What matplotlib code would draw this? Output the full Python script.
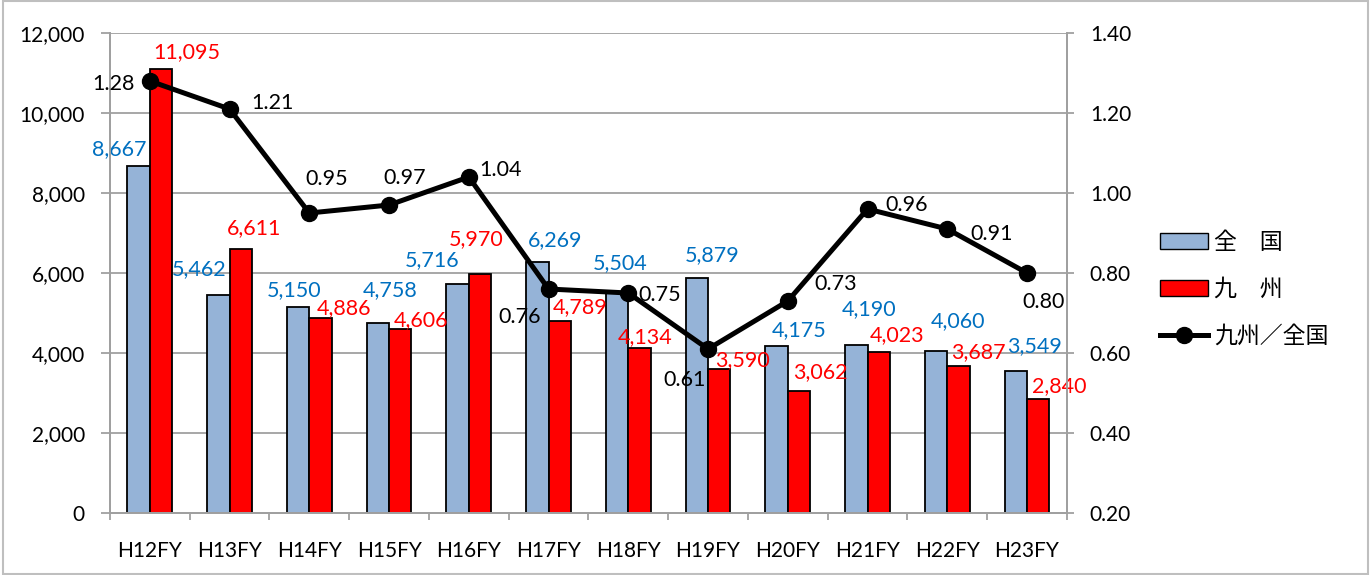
import matplotlib.pyplot as plt
import matplotlib.patches as mpatches
from matplotlib.lines import Line2D
import numpy as np

plt.rcParams['font.family'] = ['Lato', 'Noto Sans CJK JP', 'DejaVu Sans']

years = ["H12FY", "H13FY", "H14FY", "H15FY", "H16FY", "H17FY",
         "H18FY", "H19FY", "H20FY", "H21FY", "H22FY", "H23FY"]
zenkoku = [8667, 5462, 5150, 4758, 5716, 6269, 5504, 5879, 4175, 4190, 4060, 3549]
kyushu = [11095, 6611, 4886, 4606, 5970, 4789, 4134, 3590, 3062, 4023, 3687, 2840]
ratio = [1.28, 1.21, 0.95, 0.97, 1.04, 0.76, 0.75, 0.61, 0.73, 0.96, 0.91, 0.80]

# label offsets in pixels (as placed in the original chart)
zen_off = [(-19, 17), (-19, 25), (-4, 17), (12, 33), (-26, 24), (18, 22),
           (3, 30), (15, 23), (22, 16), (13, 36), (22, 30), (19, 25)]
kyu_off = [(26, 17), (13, 20), (24, 9), (21, 9), (-4, 35), (20, 14),
           (6, 11), (23, 9), (21, 18), (18, 17), (20, 13), (21, 13)]
ratio_off = [(-36, -3), (43, 6), (17, 34), (16, 27), (32, 7), (-29, -28),
             (31, -2), (-23, -31), (48, 17), (39, 4), (44, -5), (17, -29)]

blue = '#95B3D7'
red = '#FF0000'
gray = '#A0A0A0'
fs = 15.5

fig = plt.figure(figsize=(13.71, 5.75), dpi=100)
ax = fig.add_axes([0.0802, 0.1078, 0.698, 0.8348])
ax2 = ax.twinx()

x = np.arange(len(years))
w = 0.28
ax.bar(x - w/2, zenkoku, w, color=blue, edgecolor='black', linewidth=1.3, zorder=2)
ax.bar(x + w/2, kyushu, w, color=red, edgecolor='black', linewidth=1.3, zorder=2)

for i in range(len(years)):
    ax.annotate(f"{zenkoku[i]:,}", (x[i] - w/2, zenkoku[i]), xytext=zen_off[i],
                textcoords='offset pixels', ha='center', va='center',
                color='#0070C0', fontsize=fs)
    ax.annotate(f"{kyushu[i]:,}", (x[i] + w/2, kyushu[i]), xytext=kyu_off[i],
                textcoords='offset pixels', ha='center', va='center',
                color=red, fontsize=fs)

ax.set_xlim(-0.5, len(years) - 0.5)
ax.set_ylim(0, 12000)
ax.set_yticks(range(0, 12001, 2000))
ax.set_yticklabels([f"{v:,}" for v in range(0, 12001, 2000)])
ax.grid(axis='y', color=gray, linewidth=1.3, zorder=0)
ax.set_axisbelow(True)
ax.set_xticks(x)
ax.set_xticklabels(years)
ax.set_xticks(np.arange(-0.5, len(years), 1), minor=True)
ax.tick_params(axis='x', which='major', length=0, pad=20, labelsize=15)
ax.tick_params(axis='x', which='minor', length=5, color=gray, width=1.3)
ax.tick_params(axis='y', length=6.5, color=gray, width=1.3, labelsize=15, pad=11.5)

ax2.plot(x, ratio, color='black', linewidth=3.6, marker='o', markersize=11.5, zorder=5)
for i in range(len(years)):
    ax2.annotate(f"{ratio[i]:.2f}", (x[i], ratio[i]), xytext=ratio_off[i],
                 textcoords='offset pixels', ha='center', va='center',
                 color='black', fontsize=fs)
ax2.set_ylim(0.2, 1.4)
ax2.set_yticks(np.arange(0.2, 1.41, 0.2))
ax2.set_yticklabels([f"{v:.2f}" for v in np.arange(0.2, 1.41, 0.2)])
ax2.tick_params(axis='y', length=5, color=gray, width=1.3, labelsize=15, pad=11.5)

for a in (ax, ax2):
    a.spines['top'].set_visible(False)
    for s in ('left', 'right', 'bottom'):
        a.spines[s].set_color(gray)
        a.spines[s].set_linewidth(1.3)
ax.set_zorder(ax2.get_zorder() - 1)
ax2.patch.set_visible(False)
ax.patch.set_visible(True)

handles = [mpatches.Patch(facecolor=blue, edgecolor='black', label='全　国'),
           mpatches.Patch(facecolor=red, edgecolor='black', label='九　州'),
           Line2D([0], [0], color='black', linewidth=3.6, marker='o', markersize=11.5,
                  label='九州／全国')]
fig.legend(handles=handles, loc='center left', bbox_to_anchor=(0.831, 0.497),
           frameon=False, fontsize=16.5, handlelength=2.1, labelspacing=1.1,
           handletextpad=0.25)

fig.patches.append(mpatches.Rectangle((0.002, 0.002), 0.996, 0.996, transform=fig.transFigure,
                                      fill=False, edgecolor='#BFBFBF', linewidth=1.5))

fig.savefig('out.png', dpi=100)
